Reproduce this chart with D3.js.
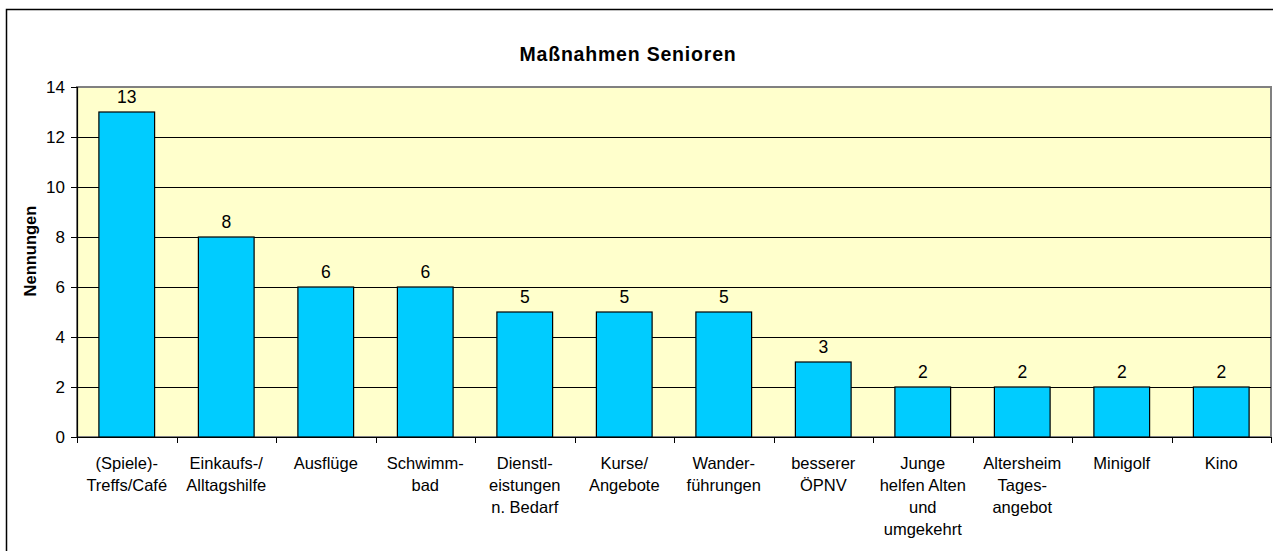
<!DOCTYPE html>
<html><head><meta charset="utf-8">
<script src="https://cdn.jsdelivr.net/npm/d3@7"></script>
<style>
html,body{margin:0;padding:0;background:#fff;}
svg{display:block;font-family:"Liberation Sans",Arial,sans-serif;}
</style></head>
<body>
<svg id="chart" width="1273" height="551"></svg>
<script>
const categories = [
  ["(Spiele)-","Treffs/Café"],
  ["Einkaufs-/","Alltagshilfe"],
  ["Ausflüge"],
  ["Schwimm-","bad"],
  ["Dienstl-","eistungen","n. Bedarf"],
  ["Kurse/","Angebote"],
  ["Wander-","führungen"],
  ["besserer","ÖPNV"],
  ["Junge","helfen Alten","und","umgekehrt"],
  ["Altersheim","Tages-","angebot"],
  ["Minigolf"],
  ["Kino"]
];
const values = [13, 8, 6, 6, 5, 5, 5, 3, 2, 2, 2, 2];
const yTicks = [0, 2, 4, 6, 8, 10, 12, 14];
const title = "Maßnahmen Senioren";
const yTitle = "Nennungen";

(function () {
const svg = d3.select("#chart");
const pLeft = 77, pRight = 1271, pTop = 87, pBottom = 437;

// outer chart border
svg.append("rect").attr("x", 6.5).attr("y", 9.5).attr("width", 1300).attr("height", 600)
  .attr("fill", "#fff").attr("stroke", "#000").attr("stroke-width", 1.5);

const x = d3.scaleBand().domain(d3.range(categories.length)).range([pLeft, pRight])
  .paddingInner(0.44).paddingOuter(0.22);
const y = d3.scaleLinear().domain([0, 14]).range([pBottom, pTop]);

// plot area
svg.append("rect").attr("x", pLeft).attr("y", pTop).attr("width", pRight - pLeft).attr("height", pBottom - pTop)
  .attr("fill", "#FFFFCC").attr("stroke", "#808080").attr("stroke-width", 2);

// gridlines
svg.append("g").selectAll("line").data(yTicks.filter(d => d > 0 && d < 14)).join("line")
  .attr("x1", pLeft).attr("x2", pRight)
  .attr("y1", d => Math.round(y(d)) + 0.5).attr("y2", d => Math.round(y(d)) + 0.5)
  .attr("stroke", "#000").attr("stroke-width", 1);

// bars
svg.append("g").selectAll("rect").data(values).join("rect")
  .attr("x", (d, i) => x(i)).attr("y", d => y(d))
  .attr("width", x.bandwidth()).attr("height", d => y(0) - y(d))
  .attr("fill", "#00CCFF").attr("stroke", "#000").attr("stroke-width", 1.2);

// value labels
svg.append("g").selectAll("text").data(values).join("text")
  .attr("x", (d, i) => x(i) + x.bandwidth() / 2).attr("y", d => y(d) - 9)
  .attr("text-anchor", "middle").attr("font-size", 17.5).attr("fill", "#000")
  .text(d => d);

// y axis
const yAxis = d3.axisLeft(y).tickValues(yTicks).tickSize(6).tickPadding(6).tickFormat(d3.format("d"));
const gy = svg.append("g").attr("transform", `translate(${pLeft},0)`).call(yAxis);
gy.select(".domain").attr("stroke", "#000").attr("stroke-width", 1.2);
gy.selectAll(".tick line").attr("stroke", "#000");
gy.selectAll(".tick text").attr("font-size", 17).attr("font-family", "Liberation Sans, Arial, sans-serif").attr("fill", "#000");

// x axis line and ticks at category boundaries
const step = x.step();
svg.append("line").attr("x1", pLeft).attr("x2", pRight).attr("y1", pBottom + 0.5).attr("y2", pBottom + 0.5)
  .attr("stroke", "#000").attr("stroke-width", 1.2);
svg.append("g").selectAll("line").data(d3.range(categories.length + 1)).join("line")
  .attr("x1", i => Math.round(pLeft + i * step) + 0.5).attr("x2", i => Math.round(pLeft + i * step) + 0.5)
  .attr("y1", pBottom).attr("y2", pBottom + 6)
  .attr("stroke", "#000").attr("stroke-width", 1);

// category labels
const lab = svg.append("g").selectAll("text").data(categories).join("text")
  .attr("text-anchor", "middle").attr("font-size", 16.5).attr("fill", "#000")
  .attr("transform", (d, i) => `translate(${x(i) + x.bandwidth() / 2},469)`);
lab.selectAll("tspan").data(d => d).join("tspan")
  .attr("x", 0).attr("y", (d, j) => j * 22).text(d => d);

// title
svg.append("text").attr("x", 628).attr("y", 61).attr("text-anchor", "middle")
  .attr("font-size", 19.5).attr("letter-spacing", 0.8).attr("font-weight", "bold").attr("fill", "#000").text(title);

// y title
svg.append("text").attr("transform", "translate(36,251) rotate(-90)").attr("text-anchor", "middle")
  .attr("font-size", 16.5).attr("font-weight", "bold").attr("fill", "#000").text(yTitle);
})();
</script>
</body></html>
